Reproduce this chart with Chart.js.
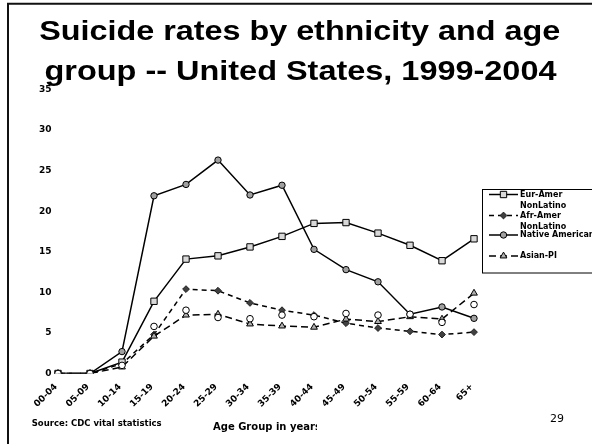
<!DOCTYPE html>
<html>
<head>
<meta charset="utf-8">
<script src="https://cdn.jsdelivr.net/npm/chart.js@4/dist/chart.umd.min.js"></script>
<style>
  html, body { margin: 0; padding: 0; background: #fff; }
  #wrap { width: 592px; height: 444px; position: relative; }
  canvas { display: block; }
</style>
</head>
<body>
<div id="wrap"><canvas id="c" width="592" height="444"></canvas></div>
<script>
// Age groups (x axis)
const ageGroups = ['00-04', '05-09', '10-14', '15-19', '20-24', '25-29', '30-34',
                   '35-39', '40-44', '45-49', '50-54', '55-59', '60-64', '65+'];

// Suicide rates per 100,000 by group
const eurAmer    = [0, 0, 1.4, 8.9, 14.1, 14.5, 15.6, 16.9, 18.5, 18.6, 17.3, 15.8, 13.9, 16.6];
const afrAmer    = [0, 0, 1.2, 4.8, 10.4, 10.2, 8.7, 7.8, 7.2, 6.2, 5.6, 5.2, 4.8, 5.1];
const nativeAmer = [0, 0, 2.7, 21.9, 23.3, 26.3, 22.0, 23.2, 15.3, 12.8, 11.3, 7.3, 8.2, 6.8];
const asianPI    = [0, 0, 0.8, 4.6, 7.2, 7.3, 6.1, 5.85, 5.7, 6.7, 6.4, 7.0, 6.7, 9.9];
// open-circle series, shown without a line or legend entry
const latino     = [0, 0, 1.0, 5.8, 7.8, 6.9, 6.75, 7.2, 7.0, 7.4, 7.2, 7.3, 6.3, 8.5];

// Value axis
const yMin = 0, yMax = 35, yStep = 5;

// Texts
const titleLines = ['Suicide rates by ethnicity and age', 'group -- United States, 1999-2004'];
const xTitle = 'Age Group in years';
const sourceNote = 'Source: CDC vital statistics';
const slideNumber = '29';
const legendLabels = [['Eur-Amer', 'NonLatino'], ['Afr-Amer', 'NonLatino'], ['Native American'], ['Asian-PI']];

const SMALL = 'DejaVu Sans';

const datasets = [
  { label: 'Eur-Amer NonLatino', data: eurAmer, order: 2,
    borderColor: '#000', borderWidth: 1.5, borderDash: [],
    pointStyle: 'rect', pointRadius: 4.5, pointBackgroundColor: '#d9d9d9',
    pointBorderColor: '#000', pointBorderWidth: 1 },
  { label: 'Afr-Amer NonLatino', data: afrAmer, order: 4,
    borderColor: '#000', borderWidth: 1.5, borderDash: [5, 4],
    pointStyle: 'rectRot', pointRadius: 3.4, pointBackgroundColor: '#404040',
    pointBorderColor: '#222', pointBorderWidth: 1 },
  { label: 'Native American', data: nativeAmer, order: 1,
    borderColor: '#000', borderWidth: 1.5, borderDash: [],
    pointStyle: 'circle', pointRadius: 3.2, pointBackgroundColor: '#a0a0a0',
    pointBorderColor: '#000', pointBorderWidth: 1 },
  { label: 'Asian-PI', data: asianPI, order: 3,
    borderColor: '#000', borderWidth: 1.5, borderDash: [7, 4],
    pointStyle: 'triangle', pointRadius: 3.9, pointBackgroundColor: '#b0b0b0',
    pointBorderColor: '#000', pointBorderWidth: 1 },
  { label: 'Latino', data: latino, order: 0, showLine: false,
    borderColor: '#000', borderWidth: 0,
    pointStyle: 'circle', pointRadius: 3.3, pointBackgroundColor: '#fff',
    pointBorderColor: '#000', pointBorderWidth: 1 }
];

// Draw text stretched horizontally to a given width, centred on cx
function drawFitted(ctx, text, cx, baseline, width) {
  const natural = ctx.measureText(text).width;
  ctx.save();
  ctx.translate(cx, baseline);
  ctx.scale(width / natural, 1);
  ctx.textAlign = 'center';
  ctx.textBaseline = 'alphabetic';
  ctx.fillText(text, 0, 0);
  ctx.restore();
}

// Slide frame, title and footer texts
const slideDecor = {
  id: 'slideDecor',
  beforeDraw(chart) {
    const ctx = chart.ctx;
    ctx.save();
    ctx.fillStyle = '#fff';
    ctx.fillRect(0, 0, chart.width, chart.height);
    ctx.restore();
  },
  afterDraw(chart) {
    const ctx = chart.ctx;
    ctx.save();
    // frame (left and top edges)
    ctx.strokeStyle = '#111';
    ctx.lineWidth = 2;
    ctx.beginPath();
    ctx.moveTo(8, 446);
    ctx.lineTo(8, 3.7);
    ctx.lineTo(594, 3.7);
    ctx.stroke();

    // title
    ctx.fillStyle = '#000';
    ctx.font = 'bold 28.5px "Liberation Sans", Arial, sans-serif';
    drawFitted(ctx, titleLines[0], 299.7, 39.5, 521);
    drawFitted(ctx, titleLines[1], 300.5, 79.8, 512);

    // footer
    ctx.textBaseline = 'middle';
    ctx.textAlign = 'left';
    ctx.font = 'bold 8.5px "' + SMALL + '"';
    ctx.fillText(sourceNote, 31.7, 424);

    ctx.save();
    ctx.beginPath();
    ctx.rect(0, 400, 317, 44);
    ctx.clip();
    ctx.font = 'bold 10px "' + SMALL + '"';
    ctx.fillText(xTitle, 213, 427);
    ctx.restore();

    ctx.font = '11px "' + SMALL + '"';
    ctx.fillText(slideNumber, 550, 419);
    ctx.restore();
  }
};

// Boxed legend at the right edge
const sideLegend = {
  id: 'sideLegend',
  afterDraw(chart) {
    const ctx = chart.ctx;
    const rowY = [194.5, 215.5, 235, 256];
    ctx.save();
    ctx.strokeStyle = '#000';
    ctx.lineWidth = 1;
    ctx.strokeRect(482.5, 189.5, 115, 83.5);

    legendLabels.forEach((lines, i) => {
      const ds = datasets[i];
      const y = rowY[i];
      ctx.save();
      ctx.strokeStyle = '#000';
      ctx.lineWidth = 1.5;
      ctx.setLineDash(ds.borderDash);
      ctx.beginPath();
      ctx.moveTo(489, y);
      ctx.lineTo(518, y);
      ctx.stroke();
      ctx.setLineDash([]);
      ctx.fillStyle = ds.pointBackgroundColor;
      ctx.strokeStyle = ds.pointBorderColor;
      ctx.lineWidth = ds.pointBorderWidth;
      Chart.helpers.drawPoint(ctx, {
        pointStyle: ds.pointStyle, radius: ds.pointRadius, rotation: 0,
        borderWidth: ds.pointBorderWidth
      }, 503.5, y);
      ctx.restore();

      ctx.fillStyle = '#000';
      ctx.font = 'bold 8px "' + SMALL + '"';
      ctx.textAlign = 'left';
      ctx.textBaseline = 'middle';
      lines.forEach((t, k) => ctx.fillText(t, 520, y + k * 11));
    });
    ctx.restore();
  }
};

new Chart(document.getElementById('c'), {
  type: 'line',
  data: { labels: ageGroups, datasets },
  options: {
    responsive: false,
    animation: false,
    events: [],
    layout: { padding: { left: 0, top: 89.5, right: 118, bottom: 20.5 } },
    elements: { line: { tension: 0 } },
    plugins: { legend: { display: false }, tooltip: { enabled: false }, title: { display: false } },
    scales: {
      x: {
        offset: false,
        grid: { display: false, drawTicks: false },
        border: { display: false },
        ticks: {
          autoSkip: false, minRotation: 45, maxRotation: 45, padding: 8, labelOffset: -2,
          color: '#000', font: { family: SMALL, weight: 'bold', size: 9 }
        },
        afterFit(scale) { scale.height = 50; }
      },
      y: {
        min: yMin, max: yMax,
        grid: { display: false, drawTicks: false },
        border: { display: false },
        ticks: {
          stepSize: yStep, padding: 6.5,
          color: '#000', font: { family: SMALL, weight: 'bold', size: 9 }
        },
        afterFit(scale) { scale.width = 58; }
      }
    }
  },
  plugins: [slideDecor, sideLegend]
});
</script>
</body>
</html>
